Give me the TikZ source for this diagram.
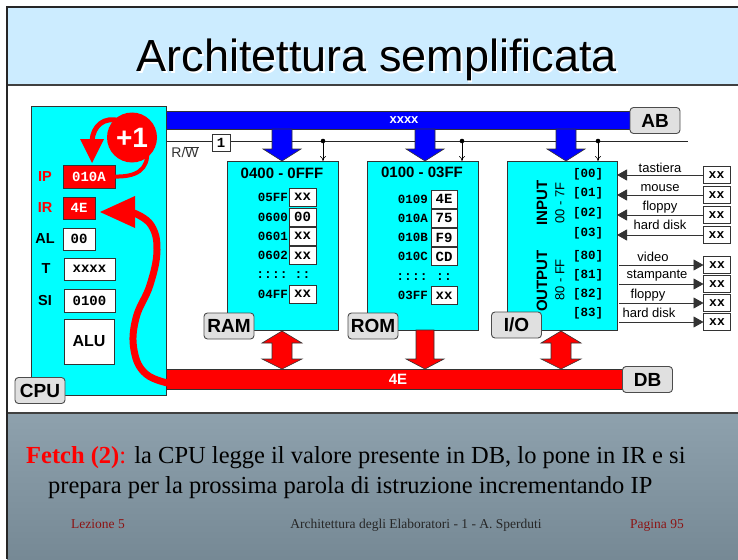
\documentclass[tikz,border=0pt]{standalone}
\usepackage{fontspec}
\setmainfont{Liberation Serif}
\setsansfont{Liberation Sans}
\setmonofont{Liberation Mono}
\usetikzlibrary{arrows.meta}
\newcommand{\pxf}[1]{\fontsize{#1}{#1}\selectfont}
\definecolor{titlebg}{RGB}{204,236,255}
\definecolor{bottop}{RGB}{142,161,173}
\definecolor{botbot}{RGB}{118,137,149}
\definecolor{footred}{RGB}{140,20,20}
\definecolor{tagfill}{RGB}{224,224,224}
\definecolor{unitcyan}{RGB}{0,255,255}
\definecolor{busblue}{RGB}{0,0,255}
\definecolor{busred}{RGB}{255,0,0}
\tikzset{
 cell/.style={draw=black!80, line width=0.8pt, fill=white, inner sep=0pt, outer sep=0pt, font=\ttfamily\bfseries\pxf{14}},
 tag/.style={draw=black!70, line width=0.9pt, fill=tagfill, rounded corners=3.5pt, inner sep=0pt, outer sep=0pt, minimum width=50pt, minimum height=26pt, font=\sffamily\bfseries\pxf{19}},
 unit/.style={draw=black!80, line width=0.8pt, fill=unitcyan, inner sep=0pt, outer sep=0pt},
 reglbl/.style={font=\sffamily\bfseries\pxf{14.5}},
 addr/.style={font=\ttfamily\bfseries\pxf{12.5}, anchor=east, inner sep=0pt},
 dev/.style={font=\sffamily\pxf{13}, inner sep=0pt},
 port/.style={font=\ttfamily\bfseries\pxf{12.5}, inner sep=0pt},
 blockblue/.style={fill=busblue, draw=black!80, line width=0.6pt},
 blockred/.style={fill=busred, draw=black!80, line width=0.6pt},
 sig/.style={draw=black!85, line width=0.9pt},
}
\begin{document}
\begin{tikzpicture}[x=1pt,y=-1pt]
\useasboundingbox (0,0) rectangle (738,559);
% slide background
\fill[white] (0,0) rectangle (738,559);
\fill[titlebg] (7,7) rectangle (738,85);
\shade[top color=bottop, bottom color=botbot] (7,413) rectangle (738,559);
\draw[black!75, line width=1.2pt] (7,85) -- (738,85);
\draw[black!75, line width=1.2pt] (7,413) -- (738,413);
\draw[black!85, line width=2pt] (7,559) -- (7,7) -- (738,7);
% title
\node[font=\sffamily\pxf{45}, anchor=base, text=white] at (378.5,73.5) {Architettura semplificata};
\node[font=\sffamily\pxf{45}, anchor=base] (title) at (377,72) {Architettura semplificata};

% address bus
\node[blockblue, minimum width=464pt, minimum height=18pt, inner sep=0pt, outer sep=0pt] (ab) at (398,120) {};
\node[text=white, font=\sffamily\bfseries\pxf{13}] at (404,120) {xxxx};
\node[tag] (abtag) at (655,120.5) {AB};

% data bus
\node[blockred, minimum width=457pt, minimum height=20pt, inner sep=0pt, outer sep=0pt] (db) at (394.5,379) {};
\node[text=white, font=\sffamily\bfseries\pxf{15}] at (398,379) {4E};
\node[tag] (dbtag) at (647.5,379.5) {DB};

% R/W line
\coordinate (rwstart) at (166,141);
\coordinate (rwend) at (688,141);
\draw[sig] (rwstart) -- (rwend);
\node[cell, minimum width=18pt, minimum height=17pt] (rwval) at (221,142.5) {1};
\node[font=\sffamily\pxf{14}, text=black!80] (rwlbl) at (185,152) {R/$\overline{\hbox{W}}$};

% units
\node[unit, minimum width=111pt, minimum height=169pt] (ram) at (282.5,245.5) {};
\node[unit, minimum width=111pt, minimum height=169pt] (rom) at (422.5,245.5) {};
\node[unit, minimum width=110pt, minimum height=169pt] (io) at (562,245.5) {};

% R/W taps
\foreach \n/\x in {ram/323, rom/462, io/598} {
  \fill (\x,141) circle (2.3pt);
  \draw[line width=0.6pt, -{To[length=5pt,width=6pt]}] (\x,141) -- (\x,161);
}

% blue address arrows
\foreach \cx in {282,425,566} {
  \draw[blockblue] (\cx-10,129) -- (\cx+10,129) -- (\cx+10,149) -- (\cx+19,149) -- (\cx,161) -- (\cx-19,149) -- (\cx-10,149) -- cycle;
}
% red data arrows
\foreach \cx in {282,561} {
  \draw[blockred] (\cx,331) -- (\cx+20,343) -- (\cx+10,343) -- (\cx+10,359) -- (\cx+20,359) -- (\cx,369) -- (\cx-20,359) -- (\cx-10,359) -- (\cx-10,343) -- (\cx-20,343) -- cycle;
}
\draw[blockred] (416,330) -- (434,330) -- (434,359) -- (444,359) -- (425,369) -- (406,359) -- (416,359) -- cycle;

% RAM contents
\node[font=\sffamily\bfseries\pxf{15}] at (282,173) {0400 - 0FFF};
\foreach \a/\v/\y in {05FF/xx/197, 0600/00/217, 0601/xx/236, 0602/xx/255.5, 04FF/xx/294} {
  \node[addr] at (288,\y) {\a};
  \node[cell, minimum width=27pt, minimum height=18pt] at (302.5,\y) {\v};
}
\node[font=\ttfamily\bfseries\pxf{13}] at (272,275) {::::};
\node[font=\ttfamily\bfseries\pxf{13}] at (302.5,275) {::};
\node[tag] (ramtag) at (229,326) {RAM};

% ROM contents
\node[font=\sffamily\bfseries\pxf{15}] at (422,172) {0100 - 03FF};
\foreach \a/\v/\y in {0109/4E/199, 010A/75/218, 010B/F9/237.5, 010C/CD/256.5, 03FF/xx/295.5} {
  \node[addr] at (428,\y) {\a};
  \node[cell, minimum width=26pt, minimum height=18pt] at (444,\y) {\v};
}
\node[font=\ttfamily\bfseries\pxf{13}] at (412,277) {::::};
\node[font=\ttfamily\bfseries\pxf{13}] at (444,277) {::};
\node[tag] (romtag) at (373,326) {ROM};

% I/O contents
\foreach \p/\y in {00/174, 01/193, 02/213, 03/233, 80/256, 81/275, 82/294, 83/313} {
  \node[port] at (588,\y) {[\p]};
}
\node[font=\sffamily\bfseries\pxf{15}, rotate=90] at (542,203) {INPUT};
\node[font=\sffamily\pxf{13}, rotate=90] at (560,203) {00 - 7F};
\node[font=\sffamily\bfseries\pxf{15}, rotate=90] at (542,281) {OUTPUT};
\node[font=\sffamily\pxf{13}, rotate=90] at (560,280) {80 - FF};
\node[tag] (iotag) at (516.5,325) {I/O};

% input devices
\foreach \i/\d/\y/\ly in {1/tastiera/175/168, 2/mouse/195/188, 3/floppy/215/207, 4/hard disk/235/225} {
  \node[cell, minimum width=27pt, minimum height=17pt, font=\ttfamily\bfseries\pxf{13}] (in\i) at (716.5,\y) {xx};
  \node[dev] at (660,\ly) {\d};
  \draw[line width=0.8pt, black!80, -{Triangle[length=10pt,width=11pt]}] (in\i.west) -- (io.east |- in\i.west);
}
% output devices
\foreach \i/\d/\y/\lx/\ly in {1/video/265/653/257, 2/stampante/284/657/276, 3/floppy/303/648/295, 4/hard disk/322/649/313} {
  \node[cell, minimum width=27pt, minimum height=17pt, font=\ttfamily\bfseries\pxf{13}] (out\i) at (717,\y) {xx};
  \node[dev] at (\lx,\ly) {\d};
  \draw[line width=0.8pt, black!80, -{Triangle[length=10pt,width=11pt]}] ([xshift=2pt]io.east |- out\i.west) -- (out\i.west);
}

% CPU
\node[unit, minimum width=135pt, minimum height=289pt] (cpu) at (98.5,250.5) {};
\node[tag] (cputag) at (40,390.5) {CPU};
\node[reglbl, text=busred] at (45,176.5) {IP};
\node[reglbl, text=busred] at (45,208) {IR};
\node[reglbl] at (45,239) {AL};
\node[reglbl] at (46,269) {T};
\node[reglbl] at (45,300.5) {SI};
\node[cell, fill=busred, text=white, minimum width=52pt, minimum height=23pt] (ip) at (89,176.5) {010A};
\node[cell, fill=busred, text=white, minimum width=32pt, minimum height=22pt] (ir) at (79,208) {4E};
\node[cell, minimum width=32pt, minimum height=22pt] (al) at (79,239) {00};
\node[cell, minimum width=51pt, minimum height=22pt] (t) at (89.5,269) {xxxx};
\node[cell, minimum width=51pt, minimum height=23pt] (si) at (89.5,300.5) {0100};
\node[cell, minimum width=50pt, minimum height=45pt, font=\sffamily\bfseries\pxf{16}] (alu) at (89,341.5) {ALU};

% DB -> IR arrow
\draw[busred, line width=7pt] plot[smooth, tension=0.7] coordinates {(172,384) (146,374) (134,350) (136,318) (150,285) (157,250) (151,225) (134,213)};
\fill[busred] (135,196) -- (135,228) -- (100,212) -- cycle;

% +1 increment
\draw[busred, line width=4pt] (ip.east) .. controls (136,177) and (149,170) .. (147,150);
\draw[busred, line width=5pt] (120,121) .. controls (104,116) and (93,126) .. (92,141);
\fill[busred] (80,139) -- (104,139) -- (92,163) -- cycle;
\node[circle, fill=busred, minimum size=50pt, inner sep=0pt, text=white, font=\sffamily\bfseries\pxf{28}] (inc) at (132,137.5) {+1};

% caption
\node[anchor=base west, inner sep=0pt, font=\pxf{24.5}] (cap1) at (26,463) {{\color{busred}\bfseries Fetch (2)}{\color{busred}:} la CPU legge il valore presente in DB, lo pone in IR e si};
\node[anchor=base west, inner sep=0pt, font=\pxf{24.5}] (cap2) at (48,493) {prepara per la prossima parola di istruzione incrementando IP};
% footer
\node[anchor=base, inner sep=0pt, font=\pxf{13.5}, text=footred] at (98,528) {Lezione 5};
\node[anchor=base, inner sep=0pt, font=\pxf{13.5}, text=black!85] at (416,528) {Architettura degli Elaboratori - 1 - A. Sperduti};
\node[anchor=base, inner sep=0pt, font=\pxf{13.5}, text=footred] at (657,528) {Pagina 95};
\end{tikzpicture}
\end{document}
